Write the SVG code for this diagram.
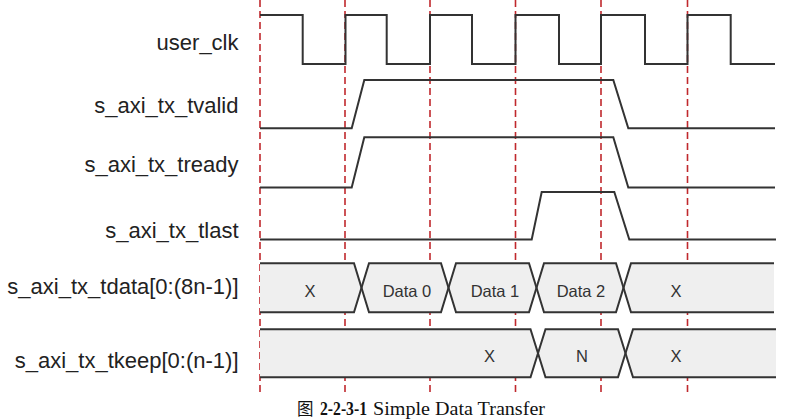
<svg xmlns="http://www.w3.org/2000/svg" width="790" height="419" viewBox="0 0 790 419">
<style>
.lbl{font-family:"Liberation Sans",Arial,sans-serif;font-size:22px;fill:#222;text-anchor:end}
.bt{font-family:"Liberation Sans",Arial,sans-serif;font-size:16.5px;fill:#333;text-anchor:middle}
.sig{fill:none;stroke:#333;stroke-width:2;stroke-linejoin:miter}
.bus{fill:#efefef;stroke:none}
.grid{stroke:#c0282d;stroke-width:1.6;stroke-dasharray:7,4;fill:none}
.cap{font-family:"Liberation Serif","Times New Roman","Noto Sans CJK SC",serif;font-size:18.5px;fill:#111}
</style>
<rect width="790" height="419" fill="#fff"/>
<g id="grid">
<line class="grid" x1="260" y1="0" x2="260" y2="393"/>
<line class="grid" x1="345" y1="0" x2="345" y2="393"/>
<line class="grid" x1="430" y1="0" x2="430" y2="393"/>
<line class="grid" x1="515.5" y1="0" x2="515.5" y2="393"/>
<line class="grid" x1="601" y1="0" x2="601" y2="393"/>
<line class="grid" x1="687.5" y1="0" x2="687.5" y2="393"/>
</g>
<g id="bus-fills">
<polygon class="bus" points="260,263.3 354,263.3 361.5,288 354,312.3 260,312.3"/>
<polygon class="bus" points="369,263.3 441,263.3 448.5,288 441,312.3 369,312.3 361.5,288"/>
<polygon class="bus" points="456,263.3 529,263.3 536.5,288 529,312.3 456,312.3 448.5,288"/>
<polygon class="bus" points="544,263.3 616,263.3 623.5,288 616,312.3 544,312.3 536.5,288"/>
<polygon class="bus" points="631,263.3 774,263.3 774,312.3 631,312.3 623.5,288"/>
<polygon class="bus" points="260,329.3 530.5,329.3 538,353.3 530.5,377.3 260,377.3"/>
<polygon class="bus" points="545.5,329.3 618,329.3 625.5,353.3 618,377.3 545.5,377.3 538,353.3"/>
<polygon class="bus" points="633,329.3 776,329.3 776,377.3 633,377.3 625.5,353.3"/>
</g>
<g id="user_clk">
<text class="lbl" x="238.5" y="50">user_clk</text>
<path class="sig" d="M260,15 H302.7 V64 H345.5 V15 H386.7 V64 H430 V15 H472 V64 H515.5 V15 H559 V64 H601 V15 H645 V64 H687.5 V15 H730.7 V64 H775"/>
</g>
<g id="s_axi_tx_tvalid">
<text class="lbl" x="238.5" y="113">s_axi_tx_tvalid</text>
<path class="sig" d="M260,128.3 H351.7 L364.3,80 H613.3 L628.3,128.3 H775"/>
</g>
<g id="s_axi_tx_tready">
<text class="lbl" x="238.5" y="171.7">s_axi_tx_tready</text>
<path class="sig" d="M260,187.5 H351.7 L364.3,137.3 H613.3 L628.3,187.5 H775"/>
</g>
<g id="s_axi_tx_tlast">
<text class="lbl" x="238.5" y="238.3">s_axi_tx_tlast</text>
<path class="sig" d="M260,239.5 H531.7 L541.7,192 H614.3 L629.3,239.5 H776"/>
</g>
<g id="s_axi_tx_tdata">
<text class="lbl" x="238.5" y="294.3">s_axi_tx_tdata[0:(8n-1)]</text>
<path class="sig" d="M260,263.3 H354 L369,312.3 H441 L456,263.3 H529 L544,312.3 H616 L631,263.3 H774"/>
<path class="sig" d="M260,312.3 H354 L369,263.3 H441 L456,312.3 H529 L544,263.3 H616 L631,312.3 H774"/>
<text class="bt" x="310" y="296.5">X</text>
<text class="bt" x="407" y="296.5">Data 0</text>
<text class="bt" x="495" y="296.5">Data 1</text>
<text class="bt" x="581" y="296.5">Data 2</text>
<text class="bt" x="676" y="296.5">X</text>
</g>
<g id="s_axi_tx_tkeep">
<text class="lbl" x="238.5" y="368.3">s_axi_tx_tkeep[0:(n-1)]</text>
<path class="sig" d="M260,329.3 H530.5 L545.5,377.3 H618 L633,329.3 H776"/>
<path class="sig" d="M260,377.3 H530.5 L545.5,329.3 H618 L633,377.3 H776"/>
<text class="bt" x="489.5" y="361.5">X</text>
<text class="bt" x="582" y="361.5">N</text>
<text class="bt" x="676" y="361.5">X</text>
</g>
<text class="cap" y="415"><tspan x="297" font-family="'Noto Sans CJK SC',sans-serif" font-size="16.5">图</tspan><tspan x="320" font-weight="bold" font-size="19" textLength="47" lengthAdjust="spacingAndGlyphs">2-2-3-1</tspan><tspan x="373" textLength="172" lengthAdjust="spacingAndGlyphs">Simple Data Transfer</tspan></text>
</svg>
